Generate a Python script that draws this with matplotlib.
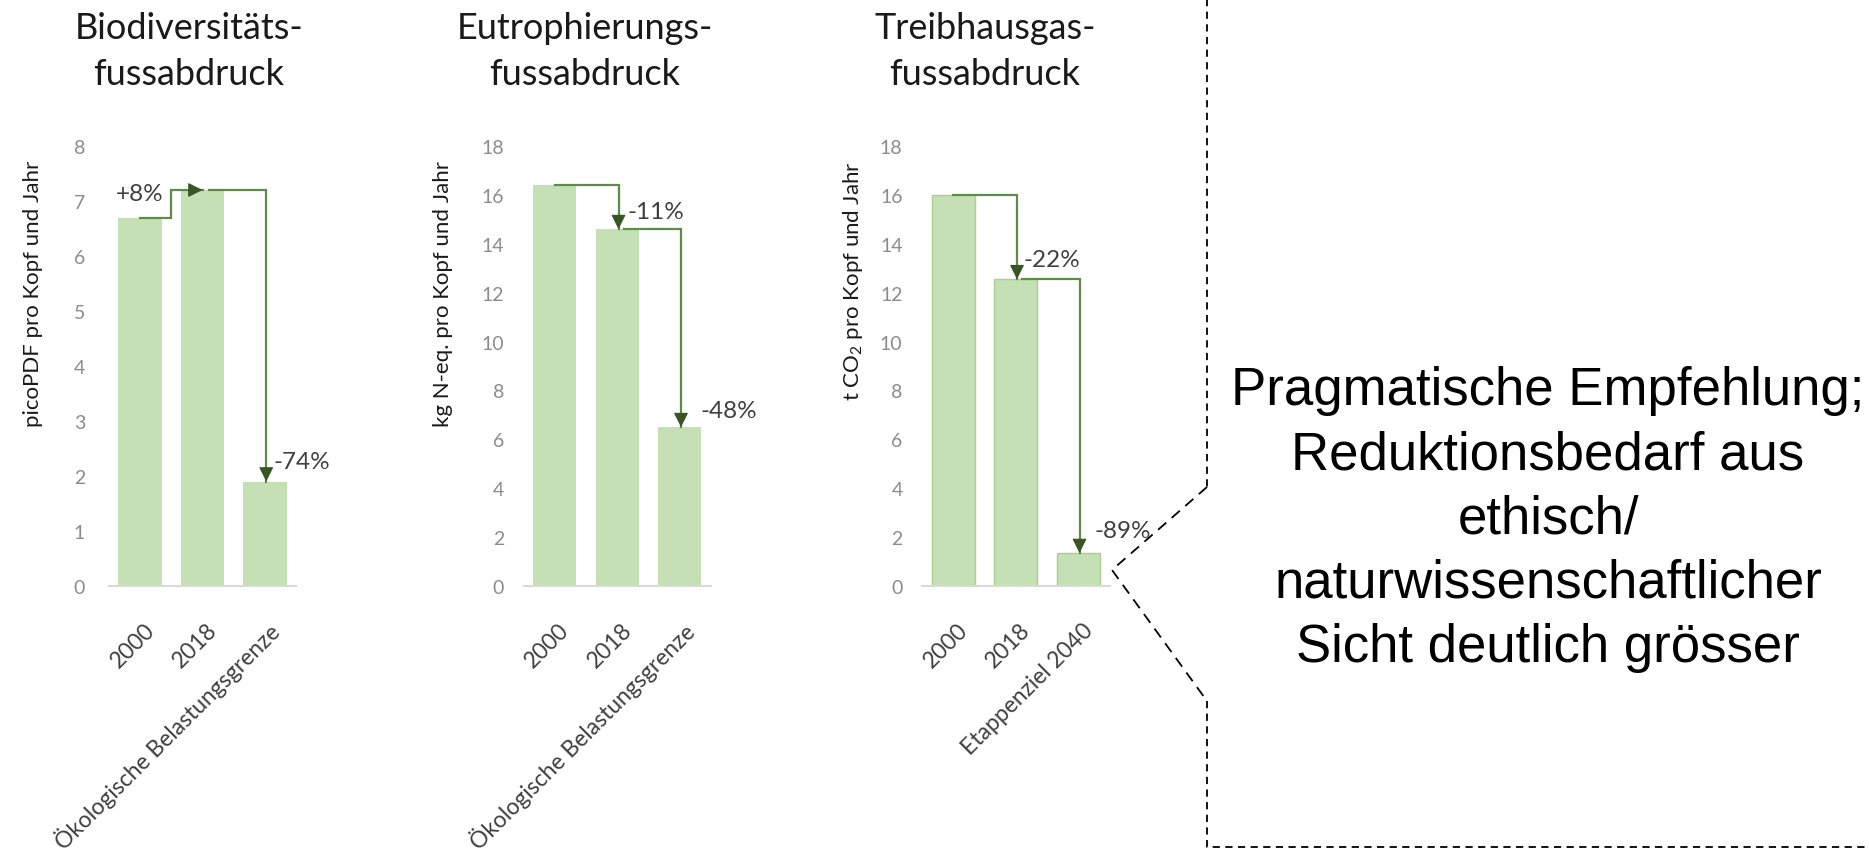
import matplotlib
matplotlib.use("Agg")
import matplotlib.pyplot as plt
import matplotlib.transforms as mtransforms
from matplotlib.lines import Line2D

# ---------------- data ----------------
categories_bio = ["2000", "2018", "Ökologische Belastungsgrenze"]
values_bio = [6.7, 7.2, 1.9]
changes_bio = ["+8%", "-74%"]
yticks_bio = [0, 1, 2, 3, 4, 5, 6, 7, 8]

categories_eut = ["2000", "2018", "Ökologische Belastungsgrenze"]
values_eut = [16.4, 14.6, 6.5]
changes_eut = ["-11%", "-48%"]
yticks_eut = [0, 2, 4, 6, 8, 10, 12, 14, 16, 18]

categories_ghg = ["2000", "2018", "Etappenziel 2040"]
values_ghg = [16.0, 12.55, 1.35]
changes_ghg = ["-22%", "-89%"]
yticks_ghg = [0, 2, 4, 6, 8, 10, 12, 14, 16, 18]

titles = [["Biodiversitäts-", "fussabdruck"],
          ["Eutrophierungs-", "fussabdruck"],
          ["Treibhausgas-", "fussabdruck"]]
ylabels = ["picoPDF pro Kopf und Jahr",
           "kg N-eq. pro Kopf und Jahr",
           "t CO$_2$ pro Kopf und Jahr"]
note_lines = ["Pragmatische Empfehlung;", "Reduktionsbedarf aus", "ethisch/",
              "naturwissenschaftlicher", "Sicht deutlich grösser"]

# ---------------- style ----------------
W, H, DPI = 1869, 853, 100
FONT = "Lato"
plt.rcParams["font.family"] = [FONT, "DejaVu Sans"]
plt.rcParams["mathtext.default"] = "regular"
BAR = "#c5e0b4"
LINE = "#5f8b48"
HEAD = "#375623"
TICK = "#8c8c8c"
LABEL = "#404040"

fig = plt.figure(figsize=(W / DPI, H / DPI), dpi=DPI)

def fx(px):
    return px / W

def fy(py):
    return 1 - py / H

panels = [
    dict(cats=categories_bio, vals=values_bio, chg=changes_bio, yt=yticks_bio, ymax=8,
         left=108.75, title_x=189, ylab_x=33, edge=False, ypad=17,
         lab_pos=[(0.0, 7.13, "center"), (2.14, 2.27, "left")]),
    dict(cats=categories_eut, vals=values_eut, chg=changes_eut, yt=yticks_eut, ymax=18,
         left=523.5, title_x=585, ylab_x=443, edge=False, ypad=14,
         lab_pos=[(1.17, 15.33, "left"), (2.33, 7.17, "left")]),
    dict(cats=categories_ghg, vals=values_ghg, chg=changes_ghg, yt=yticks_ghg, ymax=18,
         left=922, title_x=985, ylab_x=853, edge=True, ypad=14,
         lab_pos=[(1.13, 13.36, "left"), (2.26, 2.25, "left")]),
]

ax_w = 187.5
ax_top, ax_bot = 147, 587

def arrow_head(ax, xy, direction):
    off = {"down": (0, 9), "right": (-9, 0)}[direction]
    ax.annotate("", xy=xy, xytext=off, textcoords="offset points",
                arrowprops=dict(arrowstyle="-|>,head_length=0.9,head_width=0.45",
                                mutation_scale=10, color=HEAD, lw=0.8,
                                shrinkA=0, shrinkB=0))

for k, p in enumerate(panels):
    ax = fig.add_axes([fx(p["left"]), fy(ax_bot), fx(ax_w), (ax_bot - ax_top) / H])
    xs = range(len(p["vals"]))
    ax.bar(xs, p["vals"], width=0.69, color=BAR,
           edgecolor="#a9d18e" if p["edge"] else BAR, linewidth=1.0 if p["edge"] else 0)
    ax.set_xlim(-0.5, 2.5)
    ax.set_ylim(0, p["ymax"])
    ax.set_yticks(p["yt"])
    ax.tick_params(axis="y", length=0, pad=p["ypad"], labelsize=14, labelcolor=TICK)
    for s in ["left", "right", "top"]:
        ax.spines[s].set_visible(False)
    ax.spines["bottom"].set_color("#d9d9d9")
    ax.spines["bottom"].set_linewidth(1.5)

    ax.set_xticks(list(xs))
    lbls = ax.set_xticklabels(p["cats"], rotation=45, rotation_mode="anchor",
                              ha="right", va="center", fontsize=16.5, color=LABEL)
    ax.tick_params(axis="x", length=0, pad=29)
    off = mtransforms.ScaledTranslation(0.11, 0, fig.dpi_scale_trans)
    for t in lbls:
        t.set_transform(t.get_transform() + off)

    # connectors
    v = p["vals"]
    for i in range(len(v) - 1):
        x0 = i + (0.1 if i > 0 else 0.0)
        if v[i + 1] > v[i]:
            xs_l = [x0, i + 0.5, i + 0.5, i + 1]
            ys_l = [v[i], v[i], v[i + 1], v[i + 1]]
            ax.plot(xs_l, ys_l, color=LINE, lw=1.6, solid_joinstyle="miter")
            arrow_head(ax, (i + 1, v[i + 1]), "right")
        else:
            xs_l = [x0, i + 1.02, i + 1.02]
            ys_l = [v[i], v[i], v[i + 1]]
            ax.plot(xs_l, ys_l, color=LINE, lw=1.6, solid_joinstyle="miter")
            arrow_head(ax, (i + 1.02, v[i + 1]), "down")

    for (lx, ly, ha), txt in zip(p["lab_pos"], p["chg"]):
        ax.text(lx, ly, txt, ha=ha, va="center", fontsize=17.5, color=LABEL)

    # titles and y labels
    fig.text(fx(p["title_x"]), fy(39), titles[k][0],
             ha="center", va="baseline", fontsize=26, color="#1a1a1a")
    fig.text(fx(p["title_x"]), fy(85), titles[k][1],
             ha="center", va="baseline", fontsize=26, color="#1a1a1a")
    fig.text(fx(p["ylab_x"]), fy(161), ylabels[k], rotation=90,
             ha="center", va="top", fontsize=16, color="#1a1a1a")

# dashed callout
dash_v = (0, (4, 3))
pts_top = [(1207, 0), (1207, 488)]
pts_diag = [(1207, 488), (1112, 571), (1207, 702)]
pts_bot = [(1207, 702), (1207, 848), (1869, 848)]
for pts, ls in [(pts_top, dash_v), (pts_diag, (0, (6, 4))), (pts_bot, dash_v)]:
    fig.add_artist(Line2D([fx(a) for a, b in pts], [fy(b) for a, b in pts],
                          color="black", lw=1.3, linestyle=ls))

baselines = [405, 470, 534, 598, 662]
for line, by in zip(note_lines, baselines):
    fig.text(fx(1548), fy(by), line, ha="center", va="baseline",
             fontsize=38, family="Liberation Sans", color="black")

fig.savefig("out.png", dpi=DPI)
